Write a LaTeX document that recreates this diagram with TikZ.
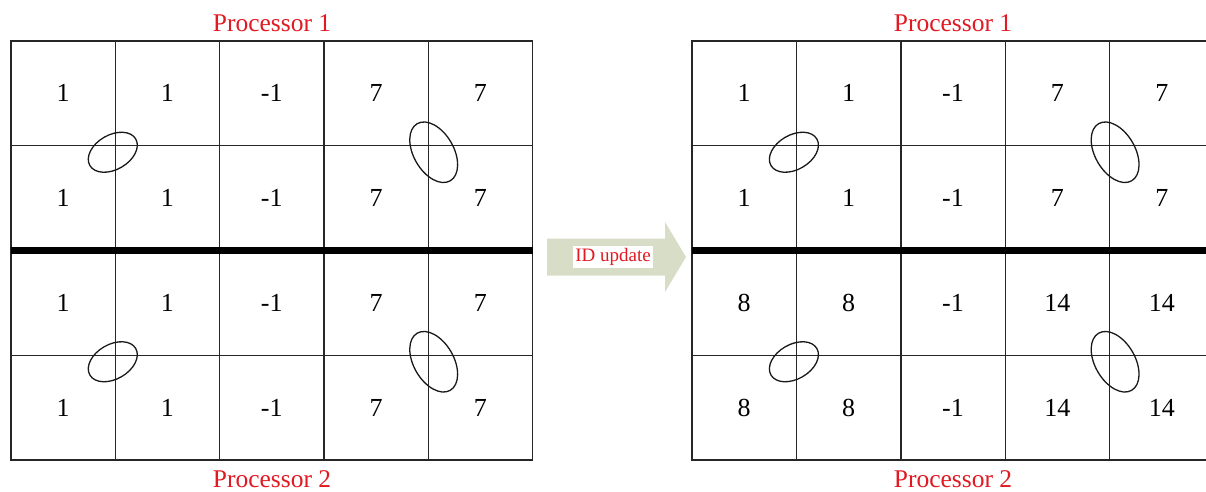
\documentclass[tikz,border=0pt]{standalone}
\usepackage{fontspec}
\setmainfont{Liberation Serif}
\usetikzlibrary{calc}
\definecolor{procred}{RGB}{225,25,35}
\definecolor{arrowfill}{RGB}{216,221,200}
\begin{document}
\begin{tikzpicture}[x=1pt,y=-1pt,
  cell/.style={draw=black!85,line width=1.4pt,minimum width=104.3pt,minimum height=104.75pt,
    inner sep=0pt,outer sep=0pt,font=\fontsize{26}{30}\selectfont,anchor=north west},
  rcell/.style={cell,minimum width=104.4pt},
  lbl/.style={text=procred,font=\fontsize{25.5}{30}\selectfont,anchor=base,inner sep=0pt},
  ring/.style={draw=black!90,line width=1.3pt},
  divider/.style={draw=black,line width=7pt},
  updlabel/.style={fill=white,text=procred,inner sep=2.5pt,font=\fontsize{19}{22}\selectfont}]
\useasboundingbox (0,0) rectangle (1206,492);
\clip (0,0) rectangle (1206,492);
% left grid
\foreach \r/\y in {1/41,2/145.75,3/250.5,4/355.25}{
  \foreach [count=\c] \v in {1,1,-1,7,7}
    \node[cell] (L-\r-\c) at ({11+104.3*(\c-1)},\y) {\v};
}
% right grid
\foreach \r/\y in {1/41,2/145.75}{
  \foreach [count=\c] \v in {1,1,-1,7,7}
    \node[rcell] (R-\r-\c) at ({692+104.4*(\c-1)},\y) {\v};
}
\foreach \r/\y in {3/250.5,4/355.25}{
  \foreach [count=\c] \v in {8,8,-1,14,14}
    \node[rcell] (R-\r-\c) at ({692+104.4*(\c-1)},\y) {\v};
}
% dividers
\draw[divider] (L-2-1.south west) -- (L-2-5.south east);
\draw[divider] (R-2-1.south west) -- (R-2-5.south east);
% ellipses
\foreach \g in {L,R}{
  \foreach \r in {1,3}{
    \coordinate (\g-ea-\r) at ($(\g-\r-2.south west)+(-2.5,6.5)$);
    \coordinate (\g-eb-\r) at ($(\g-\r-5.south west)+(5.5,6.5)$);
    \draw[ring,rotate around={30:(\g-ea-\r)}] (\g-ea-\r) ellipse [x radius=26.5,y radius=17.3];
    \draw[ring,rotate around={-60:(\g-eb-\r)}] (\g-eb-\r) ellipse [x radius=33,y radius=20];
  }
}
% labels
\node[lbl] (p1L) at (272,32) {Processor 1};
\node[lbl] (p2L) at (272,487) {Processor 2};
\node[lbl] (p1R) at (953,32) {Processor 1};
\node[lbl] (p2R) at (953,487) {Processor 2};
% arrow
\fill[arrowfill] (547,238.5) -- (665,238.5) -- (665,222) -- (686,257) -- (665,292)
  -- (665,275.5) -- (547,275.5) -- cycle;
\node[updlabel] (upd) at (613,257) {ID update};
\end{tikzpicture}
\end{document}
